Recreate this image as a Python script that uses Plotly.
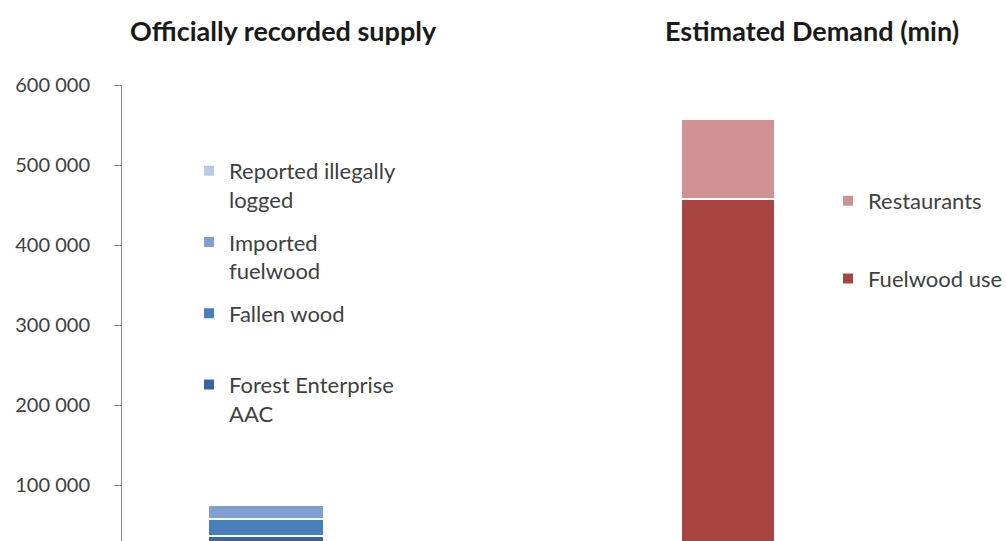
import plotly.graph_objects as go

W, H = 1006, 541

supply_category = ["Officially recorded supply"]
supply_series = ["Forest Enterprise AAC", "Fallen wood", "Imported fuelwood", "Reported illegally logged"]
supply_legend_text = ["Forest Enterprise<br>AAC", "Fallen wood<br>\u00a0", "Imported<br>fuelwood", "Reported illegally<br>logged"]
supply_values = [36000, 22000, 17000, 1000]
supply_colors = ["#3a64a2", "#4a7ebb", "#7f9fd0", "#b9cbe4"]

demand_category = ["Estimated Demand (min)"]
demand_series = ["Fuelwood use", "Restaurants"]
demand_values = [457000, 100000]
demand_colors = ["#a84442", "#d09192"]

tick_values = [100000, 200000, 300000, 400000, 500000, 600000]
tick_labels = ["100 000", "200 000", "300 000", "400 000", "500 000", "600 000"]

FONT = "Lato"
TXT = "#404040"

fig = go.Figure()

n = len(supply_series)
for i, (name, label, val, col) in enumerate(zip(supply_series, supply_legend_text, supply_values, supply_colors)):
    fig.add_trace(go.Bar(
        x=supply_category, y=[val], name=label, legendgroup=name, legendrank=100 + (n - i),
        marker=dict(color=col, line=dict(color="white", width=2)),
        width=0.4, xaxis="x", yaxis="y", legend="legend",
        hoverinfo="skip",
    ))

m = len(demand_series)
for i, (name, val, col) in enumerate(zip(demand_series, demand_values, demand_colors)):
    fig.add_trace(go.Bar(
        x=demand_category, y=[val], name=name, legendgroup=name, legendrank=200 + (m - i),
        marker=dict(color=col, line=dict(color="white", width=2)),
        width=0.4, xaxis="x2", yaxis="y2", legend="legend2",
        hoverinfo="skip",
    ))

def px_x(p):
    return p / W

def px_y(p):
    return 1 - p / H

ydom = [0, px_y(85)]
yrange = [30000, 600000]

fig.update_layout(
    width=W, height=H,
    margin=dict(l=0, r=0, t=0, b=0, autoexpand=False),
    paper_bgcolor="white", plot_bgcolor="white",
    barmode="stack",
    showlegend=True,
    font=dict(family=FONT, size=20, color=TXT),
    xaxis=dict(domain=[px_x(122), px_x(410)], range=[-0.5, 0.5],
               showticklabels=False, showline=False, showgrid=False, zeroline=False, ticks=""),
    xaxis2=dict(domain=[px_x(610), px_x(845)], range=[-0.5, 0.5],
                showticklabels=False, showline=False, showgrid=False, zeroline=False, ticks=""),
    yaxis=dict(domain=ydom, range=yrange, tickvals=tick_values, ticktext=tick_labels,
               showline=True, linecolor="#8c8c8c", linewidth=1,
               ticks="outside", ticklen=7, tickcolor="#8c8c8c", tickwidth=1,
               showgrid=False, zeroline=False, ticklabelstandoff=20, automargin=False,
               tickfont=dict(family=FONT, size=20, color=TXT)),
    yaxis2=dict(domain=ydom, range=yrange, anchor="x2", visible=False, showgrid=False),
    legend=dict(x=px_x(189), y=px_y(150), xanchor="left", yanchor="top",
                traceorder="grouped", tracegroupgap=11, valign="top",
                bgcolor="rgba(0,0,0,0)", font=dict(family=FONT, size=22, color=TXT)),
    legend2=dict(x=px_x(828), y=px_y(180), xanchor="left", yanchor="top",
                 traceorder="grouped", tracegroupgap=46, valign="top",
                 bgcolor="rgba(0,0,0,0)", font=dict(family=FONT, size=22, color=TXT)),
    annotations=[
        dict(text="<b>Officially recorded supply</b>", x=px_x(283), y=px_y(30),
             xref="paper", yref="paper", showarrow=False, xanchor="center", yanchor="middle",
             font=dict(family=FONT, size=27, color="#1a1a1a")),
        dict(text="<b>Estimated Demand (min)</b>", x=px_x(812), y=px_y(31),
             xref="paper", yref="paper", showarrow=False, xanchor="center", yanchor="middle",
             font=dict(family=FONT, size=27, color="#1a1a1a")),
    ],
)

fig.write_html("out.html")
